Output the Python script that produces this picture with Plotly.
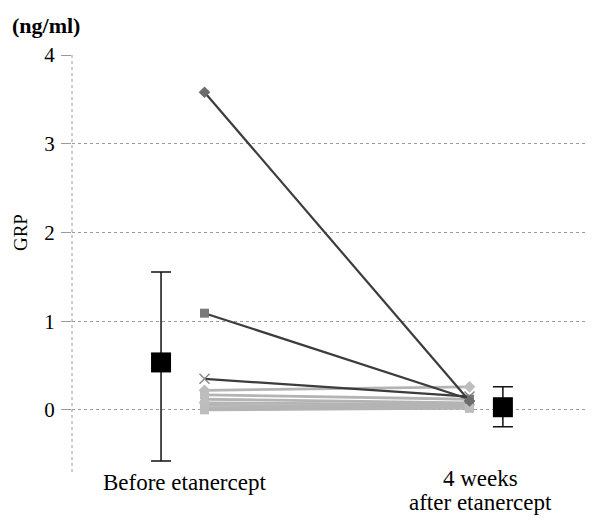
import plotly.graph_objects as go

# Data
categories = ["Before etanercept", "4 weeks", "after etanercept"]
cat_pos = [0, 1]
subject_before = [3.58, 1.09, 0.35, 0.22, 0.17, 0.12, 0.08, 0.05, 0.02, 0.0]
subject_after = [0.10, 0.12, 0.15, 0.26, 0.12, 0.08, 0.06, 0.04, 0.02, 0.02]
mean_vals = [0.535, 0.03]
err_plus = [1.02, 0.23]
err_minus = [1.11, 0.22]
mean_pos = [-0.164, 1.126]
yticks = [0, 1, 2, 3, 4]

SERIF = "Liberation Serif"

line_colors = ["#3c3c3c", "#3c3c3c", "#3c3c3c"] + ["#b4b4b4"] * 7
marker_symbols = ["diamond", "square", "x-thin-open", "diamond", "square", "triangle-up",
                  "diamond", "square", "square", "square"]
marker_colors = ["#6c6c6c", "#7a7a7a", "#8a8a8a"] + ["#bdbdbd"] * 7

fig = go.Figure()

order = list(range(len(subject_before)))[::-1]
for i in order:
    fig.add_trace(go.Scatter(
        x=cat_pos, y=[subject_before[i], subject_after[i]],
        mode="lines+markers",
        line=dict(color=line_colors[i], width=2.2 if i < 3 else 2.8),
        marker=dict(symbol=marker_symbols[i], size=9 if i != 2 else 10,
                    color=marker_colors[i],
                    line=dict(color=marker_colors[i], width=1.5 if i == 2 else 0)),
        showlegend=False, hoverinfo="skip"))

fig.add_trace(go.Scatter(
    x=mean_pos, y=mean_vals, mode="markers",
    marker=dict(symbol="square", size=20, color="#000000"),
    error_y=dict(type="data", symmetric=False, array=err_plus, arrayminus=err_minus,
                 color="#111111", thickness=1.5, width=10),
    showlegend=False))

fig.update_layout(
    width=594, height=521,
    margin=dict(l=64, r=0, t=47, b=57),
    paper_bgcolor="white", plot_bgcolor="white",
    font=dict(family=SERIF, color="black", size=20),
    xaxis=dict(range=[-0.5, 1.5], showgrid=False, zeroline=False,
               showticklabels=False, showline=False, fixedrange=True),
    yaxis=dict(range=[-0.7, 4], tickvals=yticks, ticktext=[str(v) for v in yticks],
               showgrid=True, gridcolor="#9a9a9a", griddash="dot", gridwidth=1,
               zeroline=False, showline=False,
               ticks="outside", ticklen=10, tickcolor="#9a9a9a",
               tickfont=dict(family=SERIF, size=21, color="black"),
               ticklabelstandoff=2),
)

# dotted y axis line
fig.add_shape(type="line", xref="paper", yref="y", x0=0, x1=0, y0=-0.7, y1=4,
              line=dict(color="#9a9a9a", width=1, dash="dot"))

# category labels
label_x = [-0.074, 1.043, 1.043]
label_shift = [-10, -6, -30]
for lx, ys, txt in zip(label_x, label_shift, categories):
    fig.add_annotation(x=lx, y=0, xref="x", yref="paper", xanchor="center", yanchor="middle",
                       yshift=ys, text=txt, showarrow=False,
                       font=dict(family=SERIF, size=23, color="black"))

fig.add_annotation(x=0, y=0.573, xref="paper", yref="paper", xanchor="center", yanchor="middle",
                   xshift=-52, text="GRP", textangle=-90, showarrow=False,
                   font=dict(family=SERIF, size=19, color="black"))

fig.add_annotation(x=0, y=1, xref="paper", yref="paper", xanchor="center", yanchor="middle",
                   xshift=-26, yshift=30,
                   text="<b>(ng/ml)</b>", showarrow=False,
                   font=dict(family=SERIF, size=22, color="black"))

fig.write_html("out.html")
